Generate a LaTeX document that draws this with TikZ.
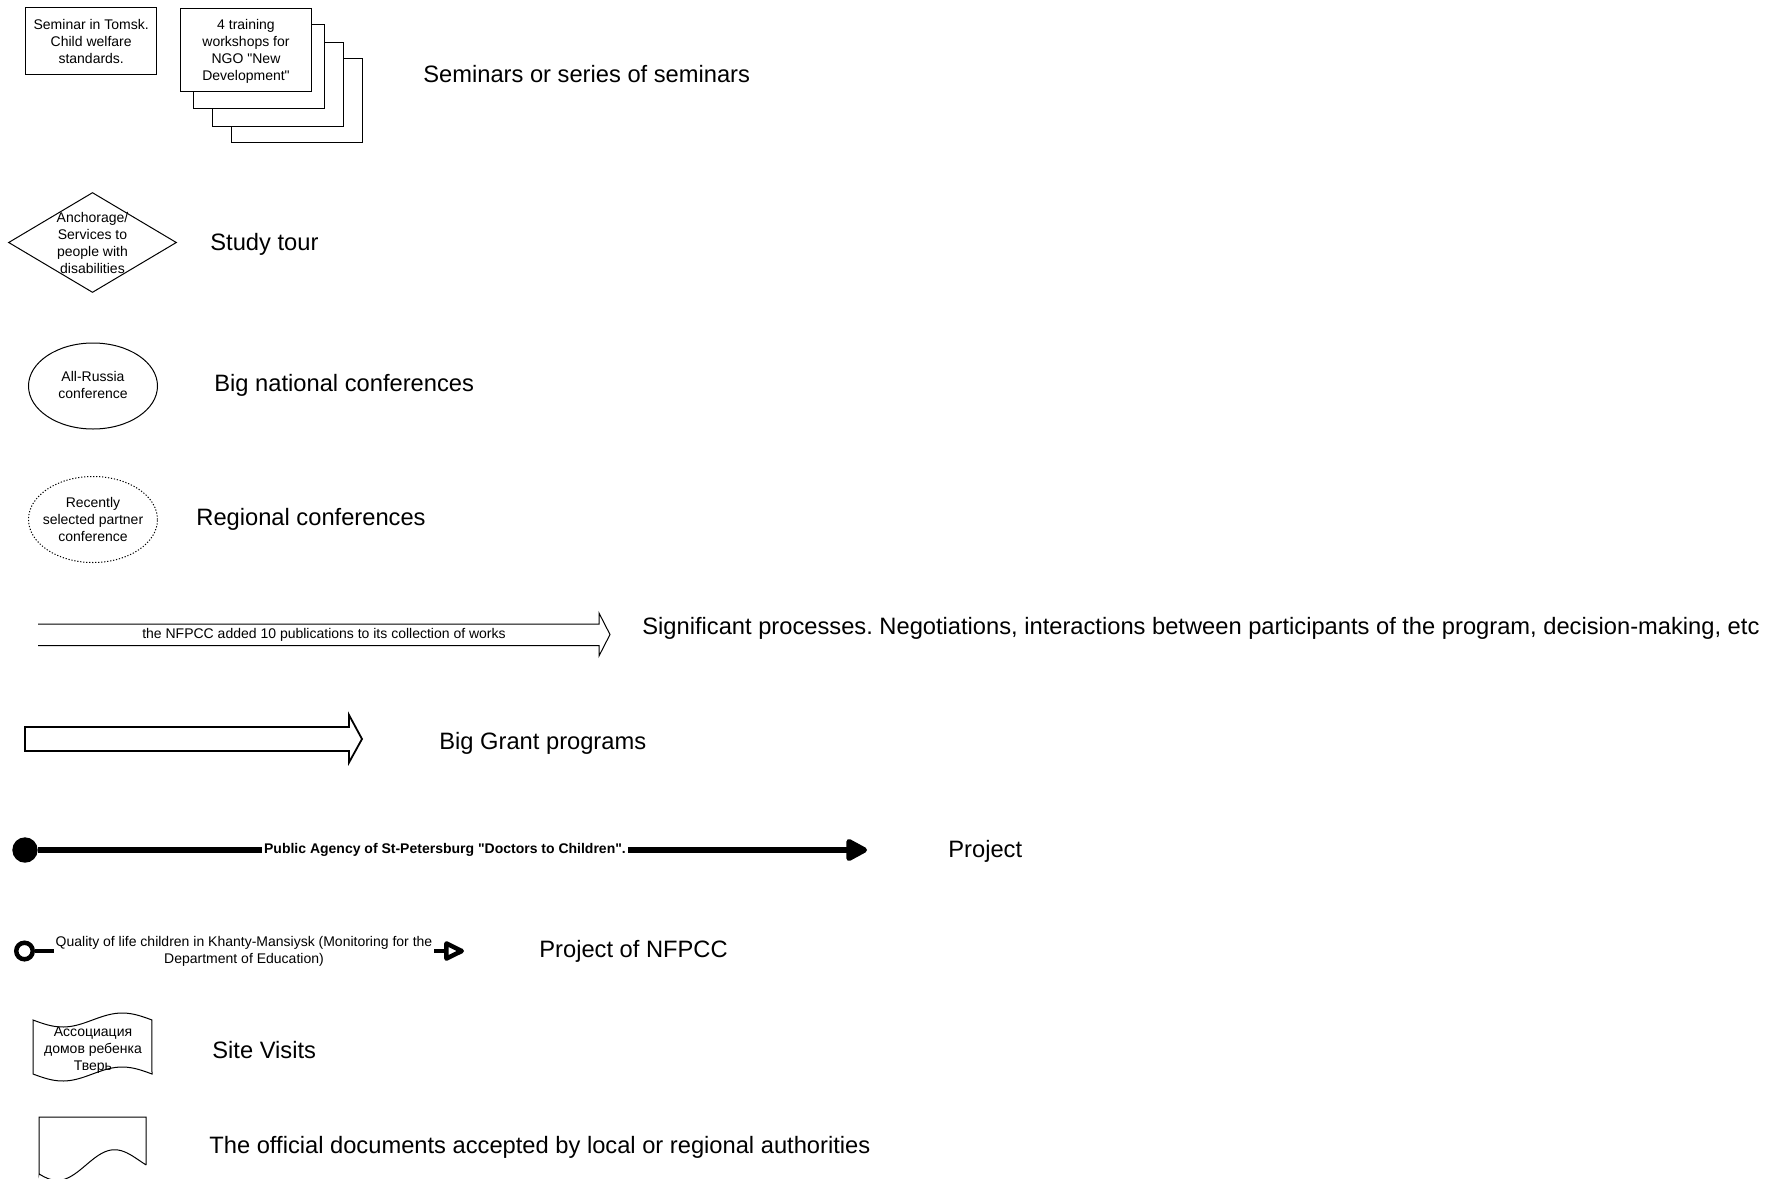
\documentclass[tikz,border=0pt]{standalone}
\usepackage{fontspec}
\newfontfamily\arial{Liberation Sans}
\usetikzlibrary{shapes.geometric,arrows.meta}
\frenchspacing
\begin{document}
\begin{tikzpicture}[x=0.5pt,y=-0.5pt,
  every node/.style={font=\arial},
  small/.style={font=\arial\fontsize{7}{8.5}\selectfont, align=center, inner sep=0pt},
  legend/.style={font=\arial\fontsize{11.85}{14}\selectfont, anchor=base west, inner sep=0pt},
  outline/.style={draw, line width=0.5pt},
  card/.style={outline, fill=white, rectangle, minimum width=65.5pt, minimum height=42pt, inner sep=0pt},
  heavy/.style={line width=2.7pt},
  medium/.style={line width=2.25pt}
]
\useasboundingbox (0,0) rectangle (1769,1179);

% --- seminars ---
\node[outline, rectangle, minimum width=65.5pt, minimum height=33.4pt, inner sep=0pt] (tomsk) at (91.2,40.7) {};
\node[small] (tomsktext) at (91.2,41) {Seminar in Tomsk.\\Child welfare\\standards.};
\node[card] (ws4) at (296.5,100.5) {};
\node[card] (ws3) at (278,84) {};
\node[card] (ws2) at (258.5,66) {};
\node[card, minimum height=41.5pt] (ws1) at (246,49.5) {};
\node[small] (ws1text) at (246,51.3) {4 training\\workshops for\\NGO "New\\Development"};
\node[legend] (lseminar) at (423,82) {Seminars or series of seminars};

% --- study tour ---
\node[diamond, outline, minimum width=84pt, minimum height=50pt, inner sep=0pt] (tour) at (92.5,242.5) {};
\node[small] (tourtext) at (tour.center) {Anchorage/\\Services to\\people with\\disabilities};
\node[legend] (ltour) at (210,250) {Study tour};

% --- conferences ---
\node[ellipse, outline, minimum width=64.5pt, minimum height=43pt, inner sep=0pt] (allrussia) at (93,386) {};
\node[small] (allrussiatext) at (93,384.5) {All-Russia\\conference};
\node[legend] (lnational) at (214,391) {Big national conferences};

\node[ellipse, draw, line width=0.5pt, dash pattern=on 0.6pt off 0.9pt, minimum width=64.5pt, minimum height=43pt, inner sep=0pt] (partner) at (93,519.5) {};
\node[small] (partnertext) at (partner.center) {Recently\\selected partner\\conference};
\node[legend] (lregional) at (196,525.5) {Regional conferences};

% --- process arrow (open at its tail) ---
\draw[outline] (38,624) -- (599,624) -- (599,613) -- (610,634.5) -- (599,656) -- (599,645.5) -- (38,645.5);
\node[small] (pubs) at (324,635) {the NFPCC added 10 publications to its collection of works};
\node[legend] (lprocess) at (642,634.5) {Significant processes. Negotiations, interactions between participants of the program, decision-making, etc};

% --- grant arrow ---
\draw[line width=0.9pt] (25,727) -- (349,727) -- (349,715) -- (362,739) -- (349,762.5) -- (349,751) -- (25,751) -- cycle;
\node[legend] (lgrant) at (439,749) {Big Grant programs};

% --- project connector ---
\node[circle, fill, inner sep=0pt, minimum size=12.7pt] (pstart) at (25,850) {};
\node[font=\arial\bfseries\fontsize{7}{8.5}\selectfont, inner sep=0.8pt] (ptext) at (445,850)
  {Public Agency of St-Petersburg "Doctors to Children".};
\coordinate (pend) at (867,850);
\draw[heavy] (pstart) -- (ptext.west);
\draw[heavy, -{Triangle[length=12pt,width=12pt,round]}] (ptext.east) -- (pend);
\node[legend] (lproject) at (948,857) {Project};

% --- NFPCC project connector ---
\node[circle, draw, medium, inner sep=0pt, minimum size=8.25pt] (nstart) at (24.5,951) {};
\node[small, inner sep=0.8pt] (ntext) at (244,951)
  {Quality of life children in Khanty-Mansiysk (Monitoring for the\\Department of Education)};
\coordinate (nend) at (464,951);
\draw[medium] (nstart) -- (ntext.west);
\draw[medium, -{Triangle[open,length=11.5pt,width=10.5pt,round]}] (ntext.east) -- (nend);
\node[legend] (lnfpcc) at (539,957.5) {Project of NFPCC};

% --- site visit (punched tape) ---
\draw[outline] plot[domain=0:1, samples=40, variable=\t] ({33+119*\t},{1020+7*sin(360*\t)})
  -- plot[domain=1:0, samples=40, variable=\t] ({33+119*\t},{1074+7*sin(360*\t)}) -- cycle;
\node[small] (visit) at (93,1050.5) {Ассоциация\\домов ребенка\\Тверь};
\node[legend] (lvisit) at (212,1058) {Site Visits};

% --- official document ---
\draw[outline] (39,1174) -- (39,1117) -- (146,1117) -- (146,1165)
  -- plot[domain=1:0, samples=40, variable=\t] ({39+107*\t},{1169+13*sin(360*\t+22)-9*\t}) -- cycle;
\node[legend] (ldoc) at (209,1153) {The official documents accepted by local or regional authorities};
\end{tikzpicture}
\end{document}
